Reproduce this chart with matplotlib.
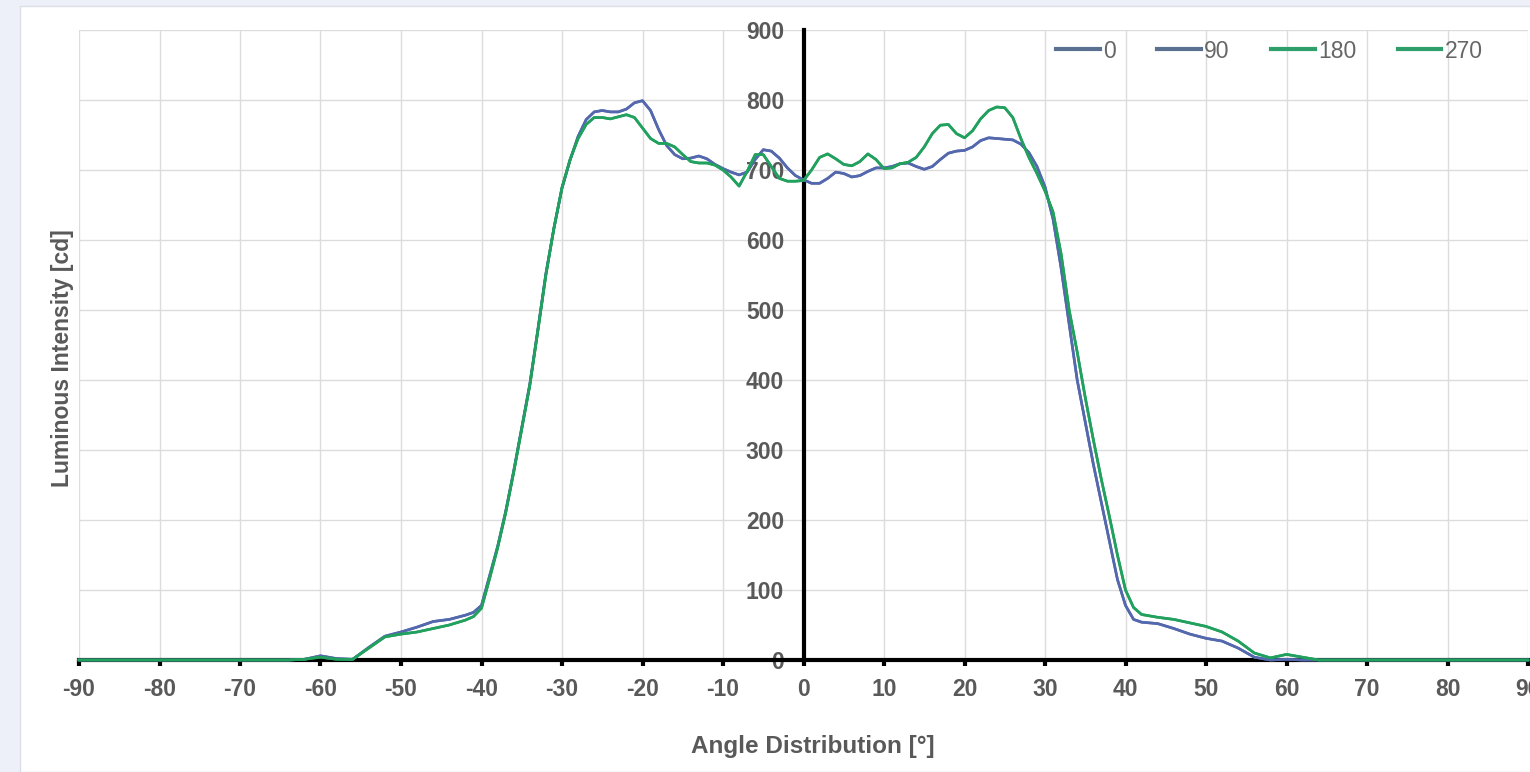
import matplotlib.pyplot as plt
from matplotlib.patches import Rectangle

plt.rcParams['axes.unicode_minus'] = False

# Кути та сила світла (кд) для чотирьох площин
angles = [-90, -80, -70, -64, -62, -60, -58, -56, -54, -52, -50, -48, -46, -44, -42, -41,
          -40, -39, -38, -37, -36, -35, -34, -33, -32, -31, -30, -29, -28, -27, -26, -25,
          -24, -23, -22, -21, -20, -19, -18, -17, -16, -15, -14, -13, -12, -11, -10, -9,
          -8, -7, -6, -5, -4, -3, -2, -1, 0, 1, 2, 3, 4, 5, 6, 7,
          8, 9, 10, 11, 12, 13, 14, 15, 16, 17, 18, 19, 20, 21, 22, 23,
          24, 25, 26, 27, 28, 29, 30, 31, 32, 33, 34, 35, 36, 37, 38, 39,
          40, 41, 42, 44, 46, 48, 50, 52, 54, 56, 58, 60, 62, 64, 70, 80, 90]

intensity_0 = [0, 0, 0, 0, 1, 6, 2, 1, 18, 34, 40, 47, 55, 58, 64, 68,
               78, 120, 162, 212, 270, 332, 394, 472, 552, 617, 674, 714, 748, 772, 783, 785,
               783, 783, 787, 796, 799, 785, 758, 735, 722, 716, 717, 720, 716, 708, 702, 697,
               693, 697, 715, 729, 727, 717, 703, 692, 686, 681, 681, 688, 697, 695, 690, 692,
               698, 703, 703, 705, 709, 710, 705, 701, 705, 715, 724, 727, 728, 733, 742, 746,
               745, 744, 743, 737, 725, 705, 676, 630, 560, 480, 400, 340, 280, 225, 170, 115,
               78, 58, 54, 52, 45, 37, 31, 27, 17, 4, 0, 1, 0, 0, 0, 0, 0]
intensity_90 = list(intensity_0)

intensity_180 = [0, 0, 0, 0, 1, 4, 1, 1, 17, 33, 37, 40, 45, 50, 57, 62,
                 74, 116, 160, 210, 268, 330, 392, 470, 550, 617, 675, 715, 745, 765, 775, 775,
                 773, 776, 779, 775, 760, 745, 738, 738, 733, 722, 712, 710, 710, 707, 700, 690,
                 677, 698, 722, 722, 705, 688, 684, 684, 685, 700, 718, 723, 716, 708, 706, 712,
                 723, 715, 702, 703, 709, 711, 718, 733, 752, 764, 765, 752, 746, 756, 773, 785,
                 790, 789, 775, 745, 718, 695, 670, 640, 580, 500, 440, 375, 315, 258, 205, 150,
                 100, 75, 65, 61, 58, 53, 48, 40, 27, 10, 3, 8, 4, 0, 0, 0, 0]
intensity_270 = list(intensity_180)

x_ticks = list(range(-90, 91, 10))
y_ticks = list(range(0, 901, 100))

blue = '#5468ad'
green = '#21a05e'
text_gray = '#595959'

fig = plt.figure(figsize=(15.3, 7.72), dpi=100, facecolor='#edf0f8')
fig.patches.append(Rectangle((20 / 1530, 0), 1, 1 - 6 / 772, transform=fig.transFigure,
                             facecolor='white', edgecolor='#dcdfe6', linewidth=1, zorder=-1))

ax = fig.add_axes([79 / 1530, 1 - 660 / 772, 1449 / 1530, 630 / 772])
ax.set_zorder(1)
ax.set_facecolor('white')

ax.plot(angles, intensity_0, color=blue, lw=1.9, label='0', zorder=4, clip_on=False)
ax.plot(angles, intensity_90, color=blue, lw=1.9, label='90', zorder=4, clip_on=False)
ax.plot(angles, intensity_180, color=green, lw=1.9, label='180', zorder=5, clip_on=False)
ax.plot(angles, intensity_270, color=green, lw=1.9, label='270', zorder=5, clip_on=False)

ax.set_xlim(-90, 90)
ax.set_ylim(0, 900)
ax.set_xticks(x_ticks)
ax.set_yticks(y_ticks)
ax.grid(True, color='#dcdcdc', lw=1)
ax.set_axisbelow(True)

for s in ['top', 'right']:
    ax.spines[s].set_visible(False)
ax.spines['left'].set_position(('data', 0))
ax.spines['left'].set_linewidth(3)
ax.spines['bottom'].set_linewidth(3)
ax.spines['left'].set_color('black')
ax.spines['bottom'].set_color('black')

font = 'Liberation Sans'
ax.tick_params(axis='x', length=4, width=3, color='black', pad=9,
               labelsize=16.5, labelcolor=text_gray)
ax.tick_params(axis='y', length=0, pad=14, labelsize=16.5, labelcolor=text_gray)
for lab in ax.get_xticklabels() + ax.get_yticklabels():
    lab.set_fontfamily(font)
    lab.set_fontweight('bold')

fig.text(813 / 1530, 1 - 746 / 772, 'Angle Distribution [°]', ha='center', va='center',
         fontsize=17.5, fontweight='bold', color=text_gray, family=font)
fig.text(62 / 1530, 1 - 358 / 772, 'Luminous Intensity [cd]', ha='center', va='center',
         rotation=90, fontsize=16.5, fontweight='bold', color=text_gray, family=font)

leg = ax.legend(loc='center right', bbox_to_anchor=(1494 / 1530, 1 - 51 / 772),
                bbox_transform=fig.transFigure, ncol=4, frameon=False, borderpad=0,
                handlelength=1.9, handletextpad=0.15, columnspacing=1.8,
                prop={'family': font, 'size': 16.5})
for t in leg.get_texts():
    t.set_color('#666666')
for h in leg.get_lines():
    h.set_linewidth(3)
leg.get_lines()[0].set_color('#5a7090')
leg.get_lines()[1].set_color('#5a7090')
leg.get_lines()[2].set_color('#2e9e6a')
leg.get_lines()[3].set_color('#2e9e6a')

fig.savefig('out.png', dpi=100, facecolor=fig.get_facecolor())
